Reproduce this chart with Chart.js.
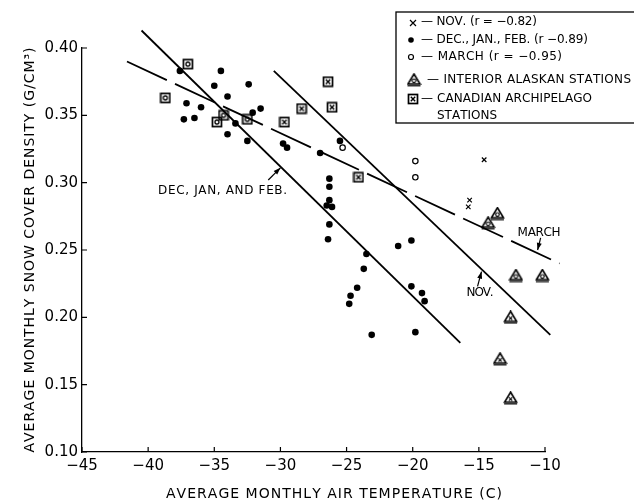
<!DOCTYPE html>
<html>
<head>
<meta charset="utf-8">
<script src="https://cdn.jsdelivr.net/npm/chart.js@4/dist/chart.umd.min.js"></script>
<style>
  html, body { margin: 0; padding: 0; background: #fff; }
  canvas { display: block; }
</style>
</head>
<body>
<canvas id="grafica" width="634" height="502"></canvas>
<script>
// --- data ---
const djfTemp = [-37.6, -34.5, -35.0, -32.4, -34.0, -37.1, -36.0, -37.3, -36.5, -32.1, -31.5, -33.4, -34.0, -32.5,
  -25.5, -29.8, -29.5, -27.0, -26.3, -26.3, -26.3, -26.5, -26.1, -26.3, -26.4, -21.1, -20.1, -23.5, -23.7,
  -24.2, -24.7, -24.8, -23.1, -20.1, -19.3, -19.1, -19.8];
const djfDensity = [0.383, 0.383, 0.372, 0.373, 0.364, 0.359, 0.356, 0.347, 0.348, 0.352, 0.355, 0.344, 0.336, 0.331,
  0.331, 0.329, 0.326, 0.322, 0.303, 0.297, 0.287, 0.283, 0.282, 0.269, 0.258, 0.253, 0.257, 0.247, 0.236,
  0.222, 0.216, 0.210, 0.187, 0.223, 0.218, 0.212, 0.189];

const marchTemp = [-25.3, -19.8, -19.8];
const marchDensity = [0.326, 0.316, 0.304];

const novTemp = [-14.6, -15.7, -15.8];
const novDensity = [0.317, 0.287, 0.282];

const canadianMarchTemp = [-37.0, -38.7, -34.3, -34.8, -32.5];
const canadianMarchDensity = [0.388, 0.363, 0.350, 0.345, 0.347];
const canadianNovTemp = [-26.4, -26.1, -28.4, -29.7, -24.1];
const canadianNovDensity = [0.375, 0.356, 0.355, 0.345, 0.304];

const alaskaMarchTemp = [-13.6, -14.3, -12.2, -10.2];
const alaskaMarchDensity = [0.277, 0.270, 0.231, 0.231];
const alaskaNovTemp = [-12.6, -13.4, -12.6];
const alaskaNovDensity = [0.200, 0.169, 0.140];

// regression lines (end points)
const novLineTemp = [-30.5, -9.6];
const novLineDensity = [0.383, 0.187];
const djfLineTemp = [-40.5, -16.4];
const djfLineDensity = [0.413, 0.181];
const marchLineTemp = [-41.6, -8.9];
const marchLineDensity = [0.390, 0.240];

const xTicks = [-45, -40, -35, -30, -25, -20, -15, -10];
const yTicks = [0.10, 0.15, 0.20, 0.25, 0.30, 0.35, 0.40];

const legendLines = [
  "— NOV. (r = −0.82)",
  "— DEC., JAN., FEB. (r −0.89)",
  "— MARCH (r = −0.95)",
  "— INTERIOR ALASKAN STATIONS",
  "— CANADIAN ARCHIPELAGO",
  "STATIONS"
];

const FONT = "DejaVu Sans";

function pts(xs, ys) {
  return xs.map((x, i) => ({ x: x, y: ys[i] }));
}

// --- marker images ---
function makeMarker(w, h, draw) {
  const c = document.createElement("canvas");
  c.width = w; c.height = h;
  const g = c.getContext("2d");
  g.strokeStyle = "#000";
  g.fillStyle = "#000";
  draw(g);
  return c;
}

function boxShape(g) {
  g.lineWidth = 1.7;
  g.strokeRect(1.5, 1.5, 9, 9);
}
const boxO = makeMarker(12, 12, g => {
  boxShape(g);
  g.lineWidth = 1.3;
  g.beginPath(); g.arc(6, 6, 2, 0, Math.PI * 2); g.stroke();
});
const boxX = makeMarker(12, 12, g => {
  boxShape(g);
  g.lineWidth = 1.4;
  g.beginPath();
  g.moveTo(3.8, 3.8); g.lineTo(8.2, 8.2);
  g.moveTo(8.2, 3.8); g.lineTo(3.8, 8.2);
  g.stroke();
});
function triShape(g) {
  g.lineWidth = 1.6;
  g.beginPath();
  g.moveTo(7.5, 1); g.lineTo(13.5, 11); g.lineTo(1.5, 11); g.closePath();
  g.stroke();
  g.lineWidth = 1.2;
  g.beginPath(); g.moveTo(1, 12.8); g.lineTo(14, 12.8); g.stroke();
}
const triO = makeMarker(15, 14, g => {
  triShape(g);
  g.lineWidth = 1.2;
  g.beginPath(); g.arc(7.5, 7.8, 1.8, 0, Math.PI * 2); g.stroke();
});
const triX = makeMarker(15, 14, g => {
  triShape(g);
  g.lineWidth = 1.2;
  g.beginPath();
  g.moveTo(5.8, 6.2); g.lineTo(9.2, 9.6);
  g.moveTo(9.2, 6.2); g.lineTo(5.8, 9.6);
  g.stroke();
});

// text with letter spacing stretched to a given width
function drawSpaced(ctx, text, x, y, width, align) {
  const chars = [...text];
  const widths = chars.map(c => ctx.measureText(c).width);
  const natural = widths.reduce((a, b) => a + b, 0);
  const gap = chars.length > 1 ? (width - natural) / (chars.length - 1) : 0;
  let cx = align === "center" ? x - width / 2 : x;
  ctx.textAlign = "left";
  chars.forEach((c, i) => {
    ctx.fillText(c, cx, y);
    cx += widths[i] + gap;
  });
}

function drawArrow(ctx, x1, y1, x2, y2) {
  const a = Math.atan2(y2 - y1, x2 - x1);
  ctx.lineWidth = 1.2;
  ctx.beginPath(); ctx.moveTo(x1, y1); ctx.lineTo(x2, y2); ctx.stroke();
  ctx.beginPath();
  ctx.moveTo(x2, y2);
  ctx.lineTo(x2 - 7 * Math.cos(a) + 2.5 * Math.sin(a), y2 - 7 * Math.sin(a) - 2.5 * Math.cos(a));
  ctx.lineTo(x2 - 7 * Math.cos(a) - 2.5 * Math.sin(a), y2 - 7 * Math.sin(a) + 2.5 * Math.cos(a));
  ctx.closePath(); ctx.fill();
}

// inward tick marks, axis titles, labels on lines and the boxed key
const extras = {
  id: "extras",
  afterDraw(chart) {
    const ctx = chart.ctx;
    const xs = chart.scales.x, ys = chart.scales.y;
    const area = chart.chartArea;
    ctx.save();
    ctx.strokeStyle = "#000";
    ctx.fillStyle = "#000";

    // ticks pointing inside the plot
    ctx.lineWidth = 1.2;
    ctx.beginPath();
    xTicks.forEach(v => {
      const px = xs.getPixelForValue(v);
      ctx.moveTo(px, area.bottom); ctx.lineTo(px, area.bottom - 5);
    });
    yTicks.forEach(v => {
      const py = ys.getPixelForValue(v);
      ctx.moveTo(area.left, py); ctx.lineTo(area.left + 5, py);
    });
    ctx.stroke();

    // axis titles
    ctx.font = "14px '" + FONT + "'";
    ctx.textBaseline = "middle";
    drawSpaced(ctx, "AVERAGE MONTHLY AIR TEMPERATURE (C)", 334, 494, 336, "center");
    ctx.save();
    ctx.translate(30, 250);
    ctx.rotate(-Math.PI / 2);
    drawSpaced(ctx, "AVERAGE MONTHLY SNOW COVER DENSITY (G/CM³)", 0, 0, 405, "center");
    ctx.restore();

    // line labels with arrows
    ctx.font = "12px '" + FONT + "'";
    const px = v => xs.getPixelForValue(v);
    const py = v => ys.getPixelForValue(v);
    drawSpaced(ctx, "DEC, JAN, AND FEB.", px(-39.25), py(0.294), 129, "left");
    drawArrow(ctx, px(-30.92), py(0.302), px(-30.0), py(0.311));
    drawSpaced(ctx, "NOV.", px(-15.93), py(0.218), 27, "left");
    drawArrow(ctx, px(-15.1), py(0.223), px(-14.8), py(0.234));
    drawSpaced(ctx, "MARCH", px(-12.07), py(0.263), 43, "left");
    drawArrow(ctx, px(-10.33), py(0.259), px(-10.56), py(0.250));

    // key box
    ctx.lineWidth = 1.3;
    ctx.strokeRect(396, 12, 260, 111);
    // symbols
    ctx.lineWidth = 1.2;
    ctx.beginPath();
    ctx.moveTo(410, 20); ctx.lineTo(416, 26);
    ctx.moveTo(416, 20); ctx.lineTo(410, 26);
    ctx.stroke();
    ctx.beginPath(); ctx.arc(411, 40, 2.8, 0, Math.PI * 2); ctx.fill();
    ctx.beginPath(); ctx.arc(411, 57, 2.5, 0, Math.PI * 2); ctx.stroke();
    ctx.drawImage(triO, 414 - 7.5, 80 - 7);
    ctx.drawImage(boxX, 413 - 6, 99 - 6);
    // texts
    const lx = [421, 421, 421, 427, 421, 437];
    const ly = [22, 40, 57, 80, 99, 116];
    const lw = [116, 167, 141, 204, 171, 60];
    legendLines.forEach((t, i) => drawSpaced(ctx, t, lx[i], ly[i], lw[i], "left"));

    ctx.restore();
  }
};

const lineBase = {
  type: "line",
  showLine: true,
  borderColor: "#000",
  borderWidth: 1.8,
  pointRadius: 0,
  fill: false,
  clip: false
};

new Chart(document.getElementById("grafica"), {
  type: "scatter",
  data: {
    datasets: [
      Object.assign({}, lineBase, { label: "Nov. fit", data: pts(novLineTemp, novLineDensity) }),
      Object.assign({}, lineBase, { label: "Dec.-Feb. fit", data: pts(djfLineTemp, djfLineDensity) }),
      Object.assign({}, lineBase, { label: "March fit", data: pts(marchLineTemp, marchLineDensity), borderDash: [44, 9] }),
      {
        label: "Dec., Jan., Feb.",
        data: pts(djfTemp, djfDensity),
        pointStyle: "circle",
        pointRadius: 3.3,
        backgroundColor: "#000",
        borderColor: "#000",
        borderWidth: 0,
        clip: false
      },
      {
        label: "March",
        data: pts(marchTemp, marchDensity),
        pointStyle: "circle",
        pointRadius: 2.7,
        backgroundColor: "#fff",
        borderColor: "#000",
        borderWidth: 1.2,
        clip: false
      },
      {
        label: "Nov.",
        data: pts(novTemp, novDensity),
        pointStyle: "crossRot",
        pointRadius: 3.2,
        borderColor: "#000",
        borderWidth: 1.2,
        clip: false
      },
      { label: "Canadian (March)", data: pts(canadianMarchTemp, canadianMarchDensity), pointStyle: boxO, pointRadius: 5, clip: false },
      { label: "Canadian (Nov.)", data: pts(canadianNovTemp, canadianNovDensity), pointStyle: boxX, pointRadius: 5, clip: false },
      { label: "Alaska (March)", data: pts(alaskaMarchTemp, alaskaMarchDensity), pointStyle: triO, pointRadius: 5, clip: false },
      { label: "Alaska (Nov.)", data: pts(alaskaNovTemp, alaskaNovDensity), pointStyle: triX, pointRadius: 5, clip: false }
    ]
  },
  options: {
    responsive: false,
    animation: false,
    layout: { padding: { top: 48, right: 89, left: 0, bottom: 0 } },
    plugins: {
      legend: { display: false },
      tooltip: { enabled: false }
    },
    scales: {
      x: {
        type: "linear",
        min: -45,
        max: -10,
        afterFit: s => { s.height = 50; },
        afterBuildTicks: s => { s.ticks = xTicks.map(v => ({ value: v })); },
        grid: { display: false, drawTicks: false },
        border: { display: true, color: "#000", width: 1.3 },
        ticks: {
          padding: 5,
          color: "#000",
          font: { family: FONT, size: 15 },
          callback: v => (v < 0 ? "−" + Math.abs(v) : String(v))
        }
      },
      y: {
        min: 0.10,
        max: 0.40,
        afterFit: s => { s.width = 82; },
        afterBuildTicks: s => { s.ticks = yTicks.map(v => ({ value: v })); },
        grid: { display: false, drawTicks: false },
        border: { display: true, color: "#000", width: 1.3 },
        ticks: {
          padding: 4,
          color: "#000",
          font: { family: FONT, size: 15 },
          callback: v => v.toFixed(2)
        }
      }
    }
  },
  plugins: [extras]
});
</script>
</body>
</html>
